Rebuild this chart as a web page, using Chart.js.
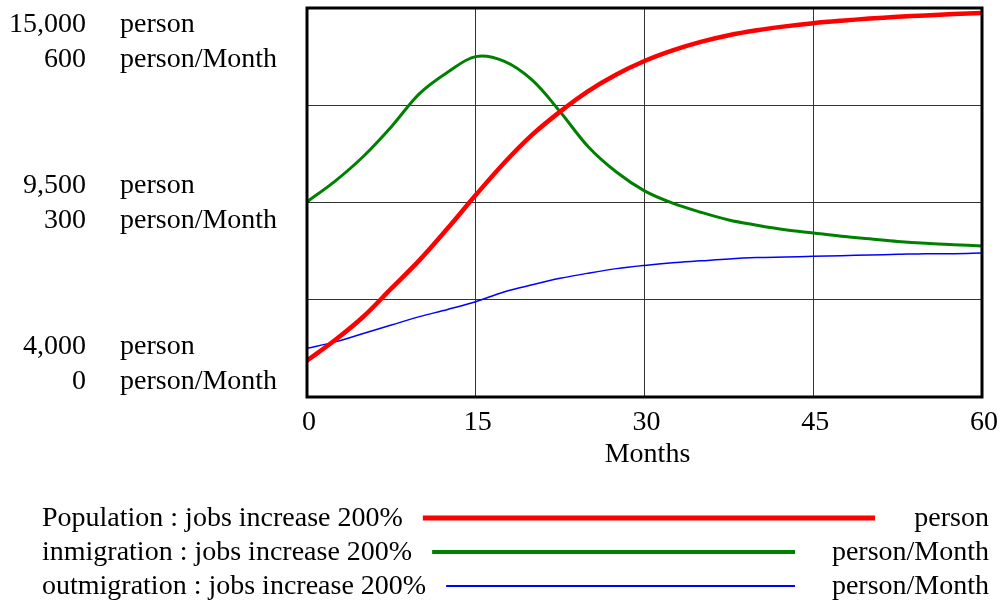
<!DOCTYPE html>
<html>
<head>
<meta charset="utf-8">
<script src="https://cdn.jsdelivr.net/npm/chart.js@4.4.1/dist/chart.umd.min.js"></script>
<style>
  html, body { margin: 0; padding: 0; background: #fff; }
  #wrap { position: relative; width: 1005px; height: 605px; }
</style>
</head>
<body>
<div id="wrap"><canvas id="popChart"></canvas></div>
<script>
// data (Months 0..60)
const months = [0, 2.5, 5, 7.5, 10, 12.5, 15, 17.5, 20, 22.5, 25, 27.5, 30,
  32.5, 35, 37.5, 40, 42.5, 45, 47.5, 50, 52.5, 55, 57.5, 60];
const population = [5030, 5610, 6270, 7070, 7870, 8770, 9710, 10610, 11410, 12070, 12650, 13120, 13500,
  13800, 14040, 14230, 14370, 14480, 14570, 14640, 14700, 14750, 14790, 14830, 14860];
const inmigration = [301, 333, 371, 417, 468, 501, 525, 518, 489, 440, 386, 347, 318,
  299, 285, 273, 265, 258, 253, 248, 244, 240, 237, 235, 233];
const outmigration = [75, 85, 98, 111, 124, 135, 147, 162, 173, 183, 191, 198, 203,
  207, 210, 213, 215, 216, 217, 218, 219, 220, 221, 221, 222];

const xTicks = [0, 15, 30, 45, 60];
const personTicks = [15000, 9500, 4000];
const rateTicks = [600, 300, 0];
const seriesNames = [
  "Population : jobs increase 200%",
  "inmigration : jobs increase 200%",
  "outmigration : jobs increase 200%"
];
const seriesUnits = ["person", "person/Month", "person/Month"];

const FONT = '28px "Liberation Serif", "Times New Roman", serif';
const toXY = (vals) => vals.map((v, i) => ({ x: months[i], y: v }));

// text, frame and legend drawn by hand
const decorPlugin = {
  id: "decor",
  afterDraw(chart) {
    const ctx = chart.ctx;
    const a = chart.chartArea;
    const xs = chart.scales.x, yp = chart.scales.y, yr = chart.scales.y1;

    ctx.save();
    // thick frame
    ctx.strokeStyle = "#000";
    ctx.lineWidth = 3;
    ctx.strokeRect(a.left, a.top, a.right - a.left, a.bottom - a.top);

    ctx.fillStyle = "#000";
    ctx.font = FONT;
    ctx.textBaseline = "middle";

    // Y axis: two stacked scales
    const offs = [[17, 52], [-17, 18], [-50, -15]];
    personTicks.forEach((v, i) => {
      const py = yp.getPixelForValue(v);
      const ry = yr.getPixelForValue(rateTicks[i]);
      ctx.textAlign = "right";
      ctx.fillText(v.toLocaleString("en-US"), 86, py + offs[i][0]);
      ctx.fillText(rateTicks[i].toLocaleString("en-US"), 86, ry + offs[i][1]);
      ctx.textAlign = "left";
      ctx.fillText("person", 120, py + offs[i][0]);
      ctx.fillText("person/Month", 120, ry + offs[i][1]);
    });

    // X axis
    ctx.textAlign = "center";
    xTicks.forEach(t => ctx.fillText(String(t), xs.getPixelForValue(t) + 2, a.bottom + 26));
    ctx.fillText("Months", (a.left + a.right) / 2 + 3, a.bottom + 58);

    // legend
    const rows = [518, 552, 586];
    const lineEnd = [875, 795, 795];
    chart.data.datasets.forEach((ds, i) => {
      ctx.textAlign = "left";
      ctx.fillStyle = "#000";
      ctx.fillText(seriesNames[i], 42, rows[i] + 1);
      const start = 42 + ctx.measureText(seriesNames[i]).width + 20;
      ctx.beginPath();
      ctx.strokeStyle = ds.borderColor;
      ctx.lineWidth = [5, 4, 2][i];
      ctx.moveTo(start, rows[i]);
      ctx.lineTo(lineEnd[i], rows[i]);
      ctx.stroke();
      ctx.textAlign = "right";
      ctx.fillText(seriesUnits[i], 989, rows[i] + 1);
    });
    ctx.restore();
  }
};

const ctx = document.getElementById("popChart").getContext("2d");
new Chart(ctx, {
  type: "line",
  data: {
    datasets: [
      { label: seriesNames[0], data: toXY(population), yAxisID: "y",
        borderColor: "#FF0000", borderWidth: 4.5 },
      { label: seriesNames[1], data: toXY(inmigration), yAxisID: "y1",
        borderColor: "#008000", borderWidth: 3 },
      { label: seriesNames[2], data: toXY(outmigration), yAxisID: "y1",
        borderColor: "#0000FF", borderWidth: 1.5 }
    ]
  },
  options: {
    responsive: true,
    maintainAspectRatio: false,
    animation: false,
    devicePixelRatio: 1,
    layout: { padding: { left: 307, top: 8, right: 23, bottom: 208 } },
    elements: {
      point: { radius: 0 },
      line: { tension: 0.35, fill: false, borderCapStyle: "round" }
    },
    plugins: { legend: { display: false }, tooltip: { enabled: false } },
    scales: {
      x: {
        type: "linear", min: 0, max: 60,
        ticks: { display: false, stepSize: 15 },
        grid: { color: "#333", lineWidth: 1, drawTicks: false },
        border: { display: false }
      },
      y: {
        position: "left", min: 4000, max: 15000,
        ticks: { display: false, stepSize: 2750 },
        grid: { color: "#333", lineWidth: 1, drawTicks: false },
        border: { display: false }
      },
      y1: {
        position: "left", min: 0, max: 600, display: false
      }
    }
  },
  plugins: [decorPlugin]
});
</script>
</body>
</html>
